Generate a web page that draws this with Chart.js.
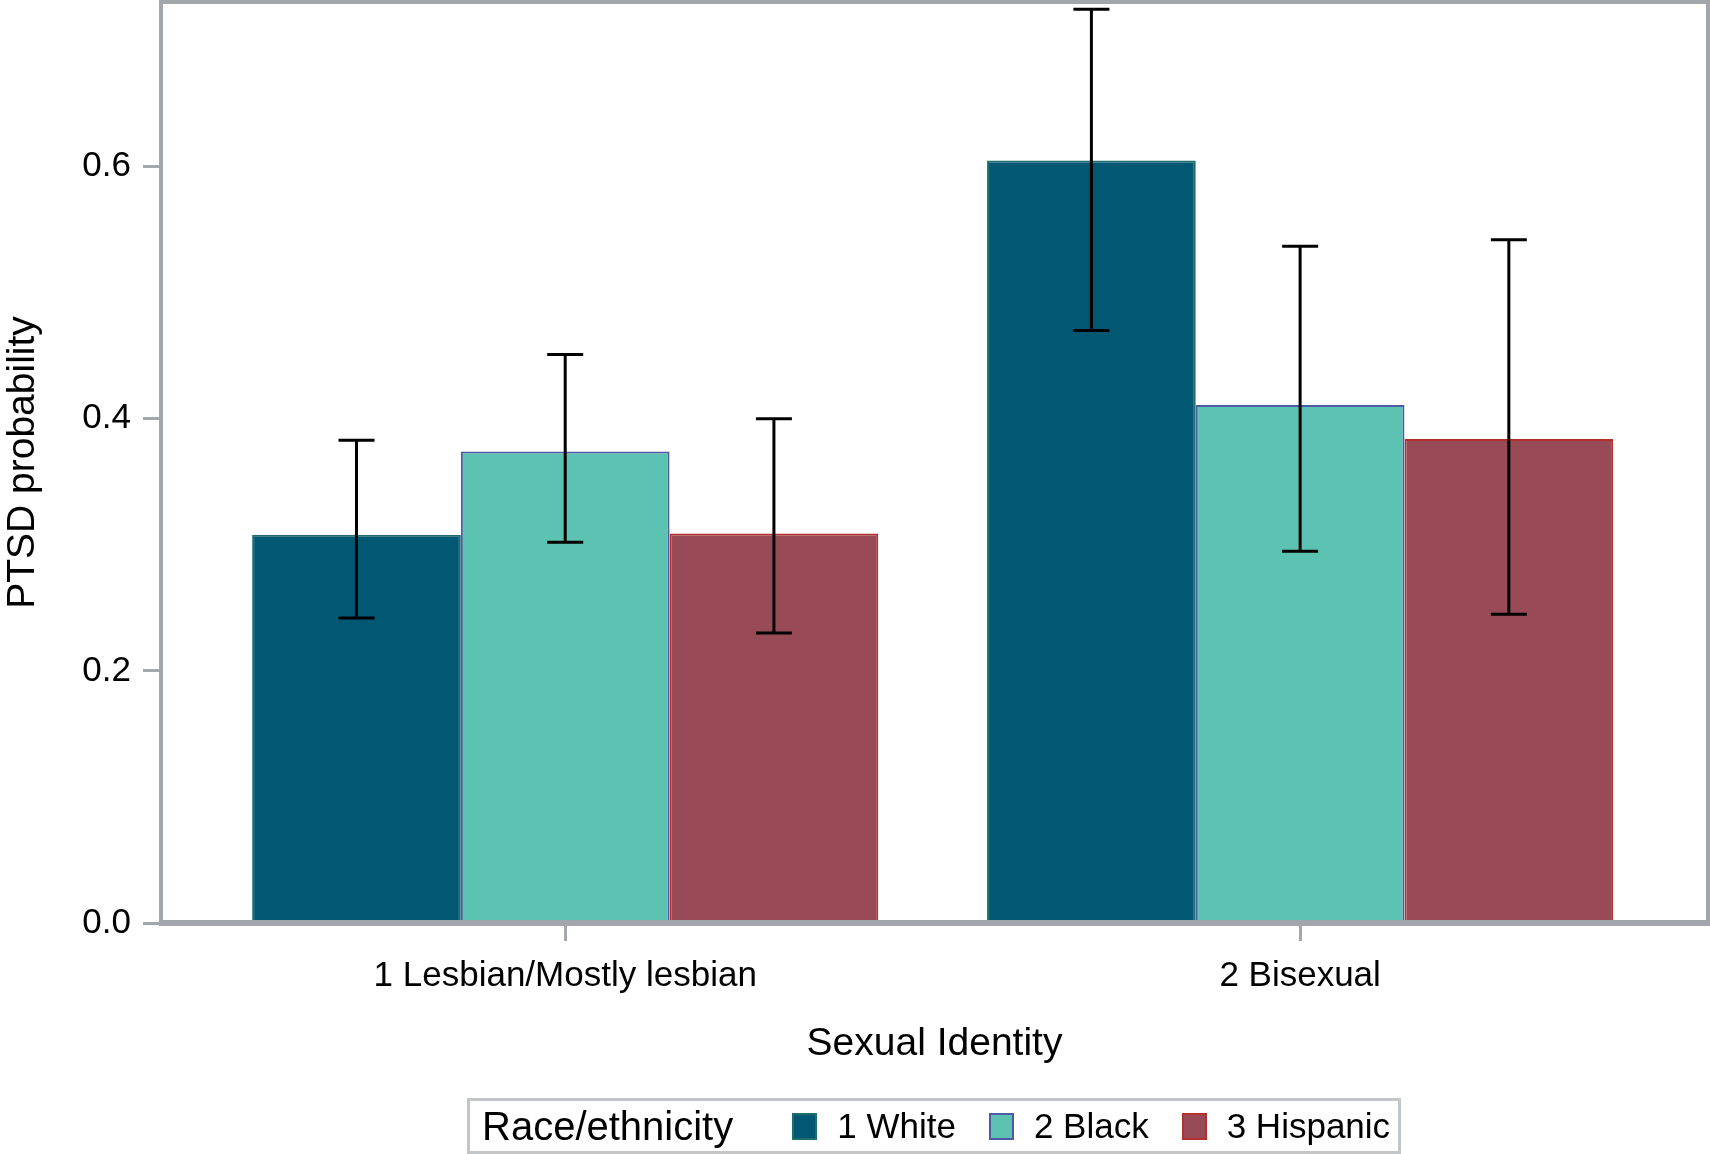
<!DOCTYPE html>
<html>
<head>
<meta charset="utf-8">
<script src="https://cdn.jsdelivr.net/npm/chart.js@4"></script>
<style>
  body { margin: 0; background: #fff; }
  #wrap { position: relative; width: 1710px; height: 1154px; }
  #legend {
    position: absolute; left: 467px; top: 1098px; width: 928px; height: 50px;
    border: 3px solid #c3c6c9; display: flex; align-items: center;
    font-family: "Liberation Sans", Arial, sans-serif; color: #000; white-space: nowrap;
  }
  #legend .title { font-size: 40px; margin-left: 12px; margin-right: 59px; flex-shrink: 0; }
  #legend .item { display: flex; align-items: center; font-size: 35px; margin-right: 33px; flex-shrink: 0; }
  #legend .item:last-child { margin-right: 0; }
  #legend .sw { width: 21px; height: 23px; border: 2px solid; margin-right: 20px; flex-shrink: 0; }
</style>
</head>
<body>
<div id="wrap">
  <canvas id="chart" width="1710" height="1154"></canvas>
  <div id="legend"></div>
</div>
<script>
const categories = ['1 Lesbian/Mostly lesbian', '2 Bisexual'];
const seriesNames = ['1 White', '2 Black', '3 Hispanic'];
const whiteVals = [0.308, 0.605];
const blackVals = [0.374, 0.411];
const hispanicVals = [0.309, 0.384];
const whiteLow = [0.242, 0.470];
const whiteHigh = [0.383, 0.725];
const blackLow = [0.302, 0.295];
const blackHigh = [0.451, 0.537];
const hispanicLow = [0.230, 0.245];
const hispanicHigh = [0.400, 0.542];
const yTicks = [0, 0.2, 0.4, 0.6];

const fills = ['#015873', '#5cc3b3', '#994a57'];
const borders = ['#1f6e6c', '#4d5aa6', '#b3302d'];
const axisGray = '#a3a7ab';
const font = '"Liberation Sans", Arial, sans-serif';

const values = [whiteVals, blackVals, hispanicVals];
const lows = [whiteLow, blackLow, hispanicLow];
const highs = [whiteHigh, blackHigh, hispanicHigh];

const datasets = seriesNames.map((name, s) => ({
  label: name,
  data: values[s].map((v, i) => ({ x: i + 1, y: v })),
  backgroundColor: fills[s],
  borderColor: borders[s],
  borderWidth: 2,
  categoryPercentage: 0.852,
  barPercentage: 1.0
}));

// frame around the plot area
const framePlugin = {
  id: 'frame',
  afterDatasetsDraw(chart) {
    const { ctx, chartArea: a } = chart;
    ctx.save();
    ctx.strokeStyle = axisGray;
    ctx.lineWidth = 4;
    ctx.beginPath();
    ctx.moveTo(a.left, a.bottom);
    ctx.lineTo(a.left, a.top);
    ctx.lineTo(a.right, a.top);
    ctx.lineTo(a.right, a.bottom);
    ctx.stroke();
    ctx.lineWidth = 6;
    ctx.beginPath();
    ctx.moveTo(a.left - 2, a.bottom);
    ctx.lineTo(a.right + 2, a.bottom);
    ctx.stroke();
    ctx.restore();
  }
};

// confidence interval whiskers
const errorBarPlugin = {
  id: 'errorBars',
  afterDatasetsDraw(chart) {
    const ctx = chart.ctx;
    const yScale = chart.scales.y;
    ctx.save();
    ctx.strokeStyle = '#000';
    ctx.lineWidth = 3;
    chart.data.datasets.forEach((ds, s) => {
      const meta = chart.getDatasetMeta(s);
      meta.data.forEach((bar, i) => {
        const x = bar.x;
        const yHi = yScale.getPixelForValue(highs[s][i]);
        const yLo = yScale.getPixelForValue(lows[s][i]);
        ctx.beginPath();
        ctx.moveTo(x, yHi); ctx.lineTo(x, yLo);
        ctx.moveTo(x - 18, yHi); ctx.lineTo(x + 18, yHi);
        ctx.moveTo(x - 18, yLo); ctx.lineTo(x + 18, yLo);
        ctx.stroke();
      });
    });
    ctx.restore();
  }
};

new Chart(document.getElementById('chart'), {
  type: 'bar',
  data: { datasets },
  options: {
    responsive: false,
    animation: false,
    devicePixelRatio: 1,
    layout: { padding: { left: 0, top: 2, right: 2, bottom: 59 } },
    plugins: { legend: { display: false }, tooltip: { enabled: false } },
    scales: {
      x: {
        type: 'linear',
        min: 0.45,
        max: 2.555,
        offset: false,
        afterBuildTicks: (scale) => { scale.ticks = categories.map((c, i) => ({ value: i + 1 })); },
        afterFit: (scale) => { scale.height = 172; scale.paddingLeft = 0; scale.paddingRight = 0; },
        grid: { offset: false, drawOnChartArea: false, drawTicks: true, tickLength: 18, tickWidth: 3, tickColor: axisGray },
        border: { display: false },
        ticks: {
          color: '#000',
          font: { family: font, size: 35 },
          padding: 14,
          maxRotation: 0,
          callback: (v) => categories[Math.round(v) - 1]
        },
        title: { display: true, text: 'Sexual Identity', color: '#000', font: { family: font, size: 39 }, padding: { top: 0, bottom: 27 } }
      },
      y: {
        min: 0,
        max: 0.7307,
        afterBuildTicks: (scale) => { scale.ticks = yTicks.map(v => ({ value: v })); },
        afterFit: (scale) => { scale.width = 161; scale.paddingTop = 0; scale.paddingBottom = 0; },
        grid: { drawOnChartArea: false, drawTicks: true, tickLength: 18, tickWidth: 3, tickColor: axisGray },
        border: { display: false },
        ticks: {
          color: '#000',
          font: { family: font, size: 35 },
          padding: 12,
          callback: (v) => Number(v).toFixed(1)
        },
        title: { display: true, text: 'PTSD probability', color: '#000', font: { family: font, size: 39 }, padding: { top: 0, bottom: 0 } }
      }
    }
  },
  plugins: [framePlugin, errorBarPlugin]
});

// legend
const legend = document.getElementById('legend');
const lt = document.createElement('span');
lt.className = 'title';
lt.textContent = 'Race/ethnicity';
legend.appendChild(lt);
seriesNames.forEach((name, s) => {
  const item = document.createElement('span');
  item.className = 'item';
  const sw = document.createElement('span');
  sw.className = 'sw';
  sw.style.background = fills[s];
  sw.style.borderColor = borders[s];
  const tx = document.createElement('span');
  tx.textContent = name;
  item.appendChild(sw);
  item.appendChild(tx);
  legend.appendChild(item);
});
</script>
</body>
</html>
